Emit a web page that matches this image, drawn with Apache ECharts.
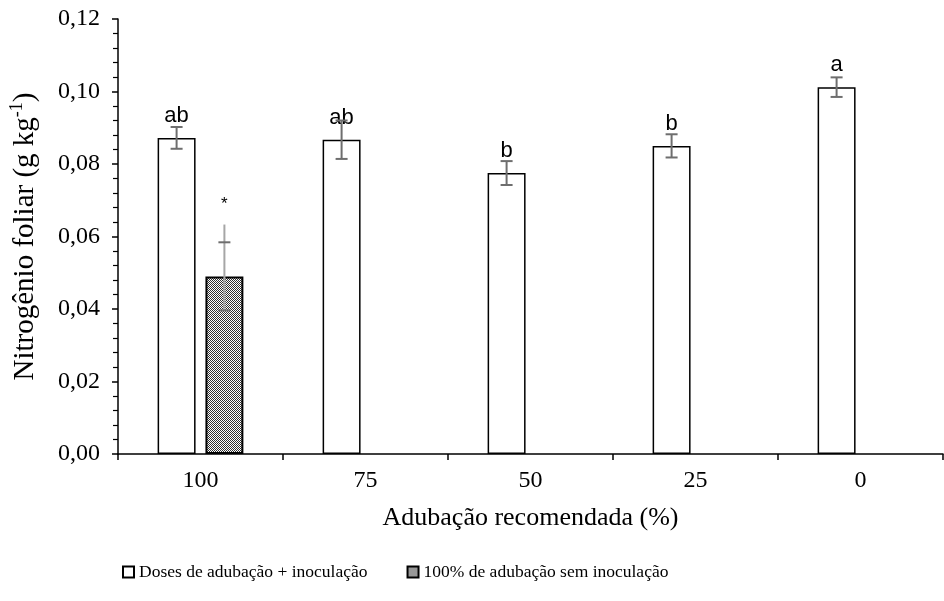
<!DOCTYPE html>
<html>
<head>
<meta charset="utf-8">
<script src="https://cdn.jsdelivr.net/npm/echarts@6/dist/echarts.min.js"></script>
<style>
  html, body { margin: 0; padding: 0; background: #fff; }
  #chart { width: 944px; height: 601px; }
</style>
</head>
<body>
<div id="chart"></div>
<script>
// dados
var categorias = ["100", "75", "50", "25", "0"];
var comInoculacao = [0.0872, 0.0867, 0.0775, 0.0850, 0.1012];
var comInoculacaoErr = [0.0030, 0.0053, 0.0033, 0.0032, 0.0027];
var comInoculacaoLetras = ["ab", "ab", "b", "b", "a"];
var semInoculacao = [0.0490, "-", "-", "-", "-"];
var semInoculacaoErr = [0.0094, 0, 0, 0, 0];
var semInoculacaoErrTopo = [0.0633, 0, 0, 0, 0]; // a linha passa do traço superior
var semInoculacaoMarca = ["*", "", "", "", ""];
var yTicks = [0, 0.02, 0.04, 0.06, 0.08, 0.10, 0.12];

var serif = "'Liberation Serif', 'Times New Roman', serif";
var sans = "'Liberation Sans', Arial, sans-serif";

// textura quadriculada da barra sem inoculação
function makePattern() {
  var c = document.createElement("canvas");
  c.width = 2;
  c.height = 2;
  var ctx = c.getContext("2d");
  ctx.fillStyle = "#ffffff";
  ctx.fillRect(0, 0, 2, 2);
  ctx.fillStyle = "#303030";
  ctx.fillRect(0, 0, 1, 1);
  ctx.fillRect(1, 1, 1, 1);
  return c;
}

var BAR_W = 0.23, BAR_GAP = 0.26;

function renderErro(params, api) {
  var i = api.value(0), v = api.value(1), e = api.value(2), topo = api.value(3), lado = api.value(4);
  if (!e) return null;
  var band = api.size([1, 0])[0];
  var bw = band * BAR_W;
  var off = (bw + bw * BAR_GAP) / 2 * lado;
  var x = api.coord([i, v])[0] + off;
  var lo = api.coord([i, v - e])[1];
  var hi = api.coord([i, v + e])[1];
  var tp = api.coord([i, Math.max(topo, v + e)])[1];
  var cap = 6;
  var escuro = "#6e6e6e";
  var claro = lado > 0 ? "#a6a6a6" : escuro;
  return {
    type: "group",
    children: [
      { type: "line", shape: { x1: x, y1: tp, x2: x, y2: lo }, style: { stroke: claro, lineWidth: 2 } },
      { type: "line", shape: { x1: x - cap, y1: hi, x2: x + cap, y2: hi }, style: { stroke: escuro, lineWidth: 2 } },
      { type: "line", shape: { x1: x - cap, y1: lo, x2: x + cap, y2: lo }, style: { stroke: escuro, lineWidth: 2 } }
    ]
  };
}

var erros = [];
categorias.forEach(function (c, i) {
  erros.push([i, comInoculacao[i], comInoculacaoErr[i], 0, -1]);
  if (semInoculacao[i] !== "-") {
    erros.push([i, semInoculacao[i], semInoculacaoErr[i], semInoculacaoErrTopo[i], 1]);
  }
});

var chart = echarts.init(document.getElementById("chart"));
var option = {
  animation: false,
  backgroundColor: "#fff",
  grid: { left: 116, right: 1, top: 19, bottom: 147, containLabel: false },
  legend: {
    data: ["Doses de adubação + inoculação", "100% de adubação sem inoculação"],
    left: 117,
    top: 558,
    icon: "rect",
    itemWidth: 11,
    itemHeight: 11,
    itemGap: 39,
    textStyle: { fontFamily: serif, fontSize: 17.5, color: "#000" }
  },
  xAxis: {
    type: "category",
    data: categorias,
    name: "Adubação recomendada (%)",
    nameLocation: "middle",
    nameGap: 51,
    nameTextStyle: { fontFamily: serif, fontSize: 26, color: "#000" },
    axisLine: { lineStyle: { color: "#000", width: 1.5 } },
    axisTick: { show: true, alignWithLabel: false, length: 6, lineStyle: { color: "#000", width: 1.5 } },
    axisLabel: { fontFamily: serif, fontSize: 24, color: "#000", margin: 15 },
    splitLine: { show: false }
  },
  yAxis: {
    type: "value",
    min: 0,
    max: 0.12,
    interval: 0.02,
    name: "{n|Nitrogênio foliar (g kg}{s|-1}{n|)}",
    nameLocation: "middle",
    nameGap: 78,
    nameRotate: 90,
    nameTextStyle: {
      rich: {
        n: { fontFamily: serif, fontSize: 29, color: "#000", lineHeight: 32, verticalAlign: "bottom" },
        s: { fontFamily: serif, fontSize: 18, color: "#000", lineHeight: 32, verticalAlign: "top" }
      }
    },
    axisLine: { show: true, lineStyle: { color: "#000", width: 1.5 } },
    axisTick: { show: true, inside: false, length: 6, lineStyle: { color: "#000", width: 1.5 } },
    minorTick: { show: true, splitNumber: 5, length: 5, lineStyle: { color: "#000", width: 1.2 } },
    axisLabel: {
      fontFamily: serif,
      fontSize: 24,
      color: "#000",
      margin: 18,
      formatter: function (v) {
        var idx = yTicks.findIndex(function (t) { return Math.abs(t - v) < 1e-9; });
        return (idx >= 0 ? yTicks[idx] : v).toFixed(2).replace(".", ",");
      }
    },
    splitLine: { show: false }
  },
  series: [
    {
      name: "Doses de adubação + inoculação",
      type: "bar",
      data: comInoculacao,
      barWidth: BAR_W * 100 + "%",
      barGap: BAR_GAP * 100 + "%",
      itemStyle: { color: "#fff", borderColor: "#000", borderWidth: 1.5 },
      label: {
        show: true,
        position: "top",
        distance: 11,
        fontFamily: sans,
        fontSize: 22,
        color: "#000",
        formatter: function (p) { return comInoculacaoLetras[p.dataIndex]; }
      }
    },
    {
      name: "100% de adubação sem inoculação",
      type: "bar",
      data: semInoculacao,
      barWidth: BAR_W * 100 + "%",
      itemStyle: { color: { image: makePattern(), repeat: "repeat" }, borderColor: "#000", borderWidth: 2 },
      label: {
        show: true,
        position: "top",
        distance: 64,
        fontFamily: sans,
        fontSize: 17,
        color: "#000",
        formatter: function (p) { return semInoculacaoMarca[p.dataIndex]; }
      }
    },
    {
      name: "erro",
      type: "custom",
      renderItem: renderErro,
      data: erros,
      z: 10,
      silent: true
    }
  ]
};
chart.setOption(option);
</script>
</body>
</html>
